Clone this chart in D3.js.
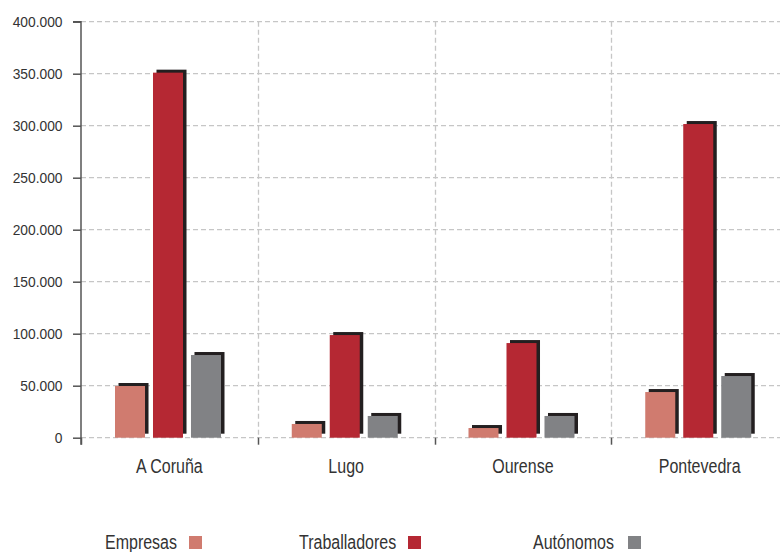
<!DOCTYPE html>
<html>
<head>
<meta charset="utf-8">
<script src="https://cdn.jsdelivr.net/npm/d3@7"></script>
<style>
  html, body { margin: 0; padding: 0; background: #fff; }
  svg { display: block; }
  text { font-family: "Liberation Sans", Arial, sans-serif; fill: #333; }
</style>
</head>
<body>
<svg id="chart" width="780" height="552"></svg>
<script>
const categories = ["A Coruña", "Lugo", "Ourense", "Pontevedra"];
const seriesNames = ["Empresas", "Traballadores", "Autónomos"];
const empresas = [49700, 13200, 9300, 43900];
const traballadores = [351000, 98700, 91000, 301600];
const autonomos = [79500, 20900, 20900, 59300];
const yTicks = [0, 50000, 100000, 150000, 200000, 250000, 300000, 350000, 400000];
const colors = ["#d07b6f", "#b52833", "#818285"];
const shadowColor = "#231f20";

const seriesValues = [empresas, traballadores, autonomos];

const svg = d3.select("#chart");
const mLeft = 81, mRight = 788, mTop = 21.7, mBottom = 437.7;
const condense = 0.8;

const x = d3.scaleBand().domain(categories).range([mLeft, mRight]).padding(0);
const inner = d3.scaleBand().domain(seriesNames).range([34, 140]).paddingInner(0.21);
const y = d3.scaleLinear().domain([0, 400000]).range([mBottom, mTop]);

const loc = d3.formatLocale({ decimal: ",", thousands: ".", grouping: [3], currency: ["", "€"] });
const fmt = loc.format(",");

// horizontal grid
svg.append("g").selectAll("line").data(yTicks).join("line")
  .attr("x1", mLeft).attr("x2", mRight)
  .attr("y1", d => y(d)).attr("y2", d => y(d))
  .attr("stroke", "#c6c6c6").attr("stroke-width", 1.3)
  .attr("stroke-dasharray", "5,3");

// vertical grid at category boundaries
svg.append("g").selectAll("line").data(categories.slice(1)).join("line")
  .attr("x1", d => Math.round(x(d)) + 0.5).attr("x2", d => Math.round(x(d)) + 0.5)
  .attr("y1", mTop).attr("y2", mBottom)
  .attr("stroke", "#c6c6c6").attr("stroke-width", 1.3)
  .attr("stroke-dasharray", "5,3");

// bars
const rows = [];
categories.forEach((c, i) => {
  seriesNames.forEach((s, j) => rows.push({ c, s, j, v: seriesValues[j][i] }));
});

const g = svg.append("g");
g.selectAll("rect.shadow").data(rows).join("rect")
  .attr("class", "shadow")
  .attr("x", d => x(d.c) + inner(d.s) + 3.5)
  .attr("y", d => y(d.v) - 3)
  .attr("width", inner.bandwidth())
  .attr("height", d => y(0) - y(d.v) - 1)
  .attr("fill", shadowColor);
g.selectAll("rect.bar").data(rows).join("rect")
  .attr("class", "bar")
  .attr("x", d => x(d.c) + inner(d.s))
  .attr("y", d => y(d.v))
  .attr("width", inner.bandwidth())
  .attr("height", d => y(0) - y(d.v))
  .attr("fill", d => colors[d.j]);

// y axis
const yAxis = d3.axisLeft(y).tickValues(yTicks).tickFormat(fmt).tickSize(8).tickPadding(11);
const ya = svg.append("g").attr("transform", `translate(${mLeft},0)`).call(yAxis);
ya.select(".domain").attr("stroke", "#555").attr("stroke-width", 1.5)
  .attr("d", `M-8,${mTop}H0V${mBottom + 7}`);
ya.selectAll(".tick line").attr("stroke", "#555").attr("stroke-width", 1.5);
ya.selectAll(".tick text")
  .attr("x", 0)
  .attr("transform", "translate(-18.5,0) scale(0.89,1)")
  .style("font-size", "15.5px").attr("fill", "#333")
  .style("font-family", '"Liberation Sans", Arial, sans-serif');

// x axis: ticks at category boundaries, labels centered
const xa = svg.append("g");
xa.selectAll("line").data(categories).join("line")
  .attr("x1", d => Math.round(x(d)) + 0.5).attr("x2", d => Math.round(x(d)) + 0.5)
  .attr("y1", mBottom).attr("y2", mBottom + 7)
  .attr("stroke", "#555").attr("stroke-width", 1.5);
xa.selectAll("text").data(categories).join("text")
  .attr("transform", d => `translate(${x(d) + x.bandwidth() / 2},473) scale(${condense},1)`)
  .attr("text-anchor", "middle")
  .style("font-size", "20px")
  .text(d => d);

// legend
const legendPos = [{ tx: 105, sx: 189 }, { tx: 299, sx: 408 }, { tx: 533, sx: 628 }];
const lg = svg.append("g");
seriesNames.forEach((s, j) => {
  lg.append("text")
    .attr("transform", `translate(${legendPos[j].tx},549) scale(${condense},1)`)
    .style("font-size", "20px").text(s);
  lg.append("rect").attr("x", legendPos[j].sx).attr("y", 536)
    .attr("width", 13).attr("height", 13).attr("fill", colors[j]);
});
</script>
</body>
</html>
